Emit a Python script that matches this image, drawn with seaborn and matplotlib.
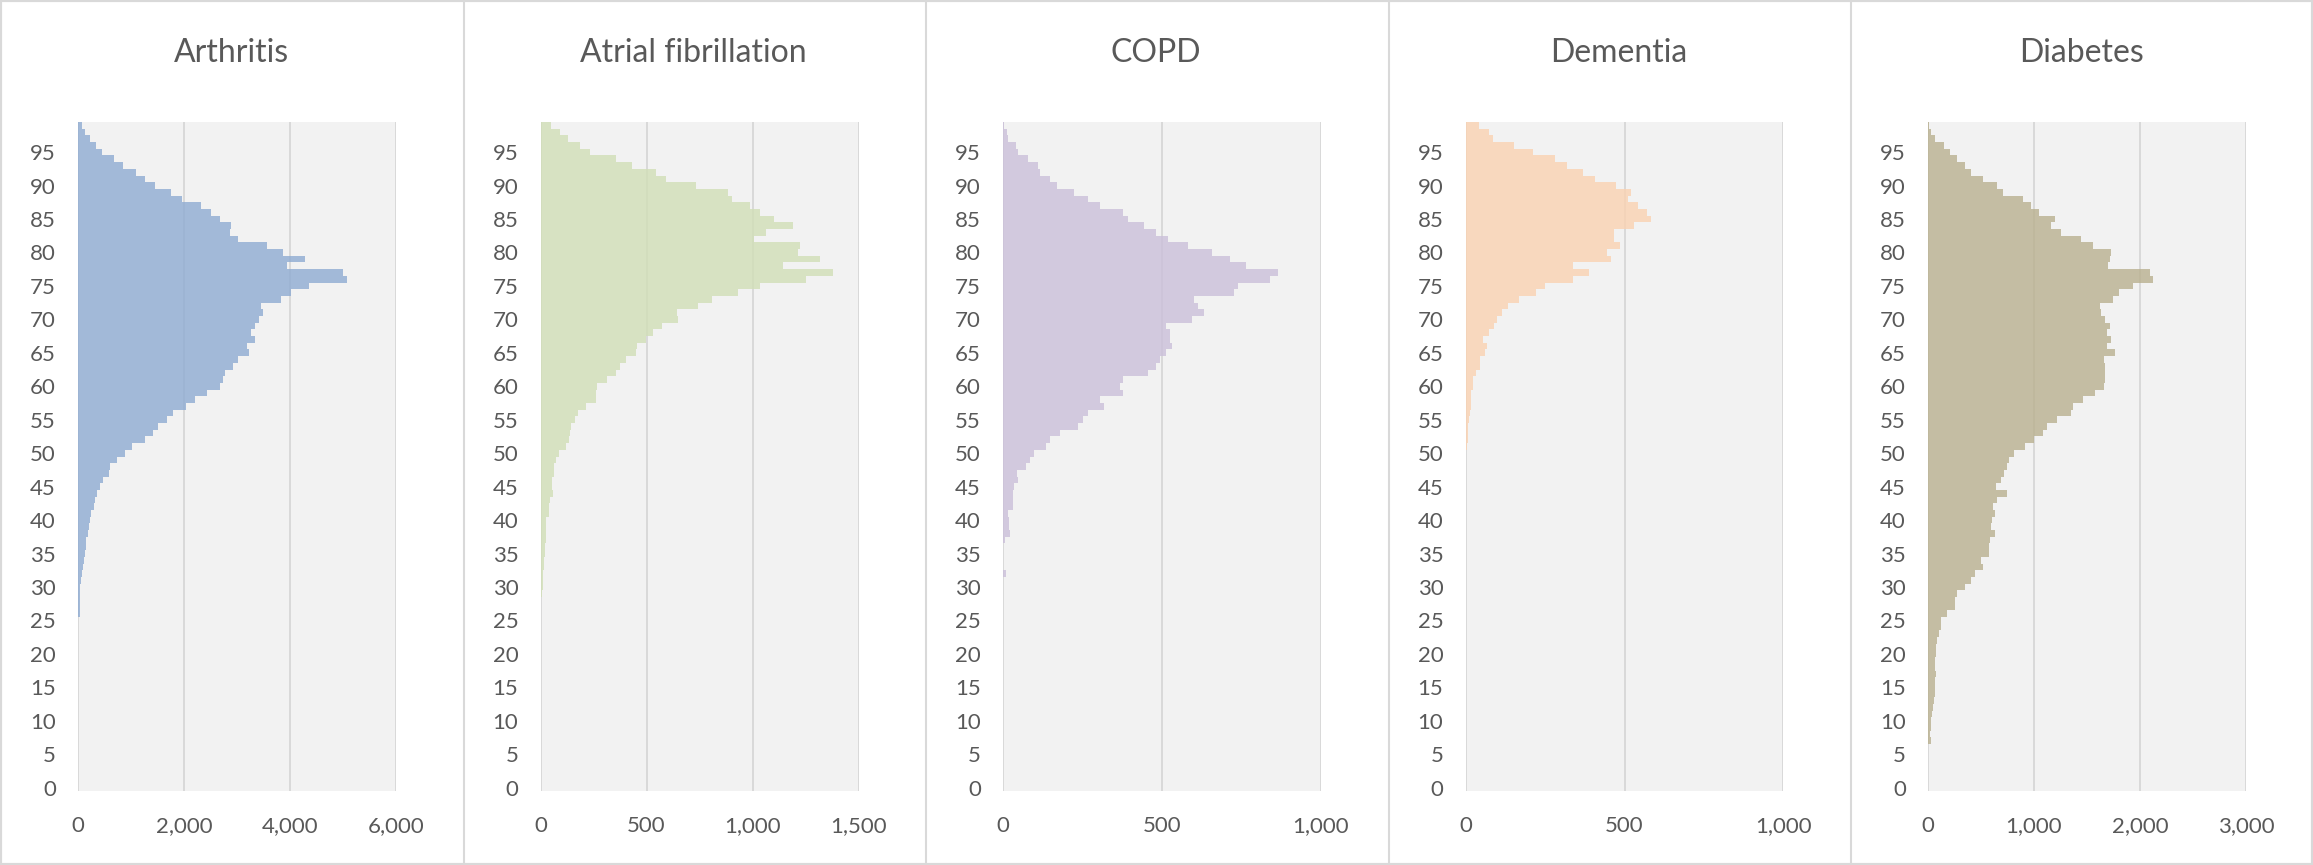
"""
Age distribution of patients by condition
"""
import numpy as np
import pandas as pd
import matplotlib.pyplot as plt
import seaborn as sns
from matplotlib.lines import Line2D
from matplotlib.patches import Rectangle

ages = list(range(100))

# patient counts per single year of age (0..99)
arthritis = [0] * 26 + [
    38, 38, 38, 38,
    44, 63, 82, 95, 114, 126, 145, 158, 190, 208,
    233, 252, 297, 315, 360, 420, 473, 587, 612, 738,
    883, 1010, 1262, 1410, 1515, 1670, 1800, 2030, 2210, 2430,
    2670, 2730, 2775, 2920, 3010, 3220, 3185, 3345, 3260, 3345,
    3420, 3490, 3460, 3830, 4020, 4355, 5080, 5005, 3945, 4290,
    3870, 3565, 3010, 2860, 2890, 2670, 2510, 2320, 1955, 1750,
    1450, 1260, 1100, 840, 675, 460, 347, 233, 126, 76,
]
atrial_fib = [0] * 29 + [
    5,
    12, 11, 11, 16, 16, 19, 19, 24, 24, 28,
    28, 39, 39, 47, 60, 55, 55, 63, 63, 71,
    87, 118, 134, 139, 145, 165, 176, 213, 261, 261,
    268, 312, 354, 375, 402, 449, 457, 499, 532, 575,
    649, 643, 743, 811, 932, 1036, 1252, 1378, 1142, 1320,
    1216, 1225, 1008, 1063, 1189, 1102, 1036, 989, 901, 885,
    732, 591, 543, 433, 354, 233, 186, 129, 91, 50,
]
copd = [0] * 32 + [
    10, 0, 0, 0, 0, 7, 23, 18,
    18, 15, 30, 30, 30, 34, 48, 44, 72, 85,
    99, 135, 149, 180, 237, 250, 268, 319, 306, 376,
    369, 376, 457, 481, 495, 512, 530, 526, 526, 512,
    594, 633, 614, 602, 727, 740, 840, 866, 764, 715,
    656, 583, 520, 481, 442, 392, 376, 306, 268, 224,
    170, 149, 117, 111, 80, 48, 41, 15, 12, 3,
]
dementia = [0] * 49 + [
    2,
    3, 5, 7, 7, 9, 10, 15, 16, 18, 18,
    23, 23, 34, 47, 47, 60, 67, 54, 73, 91,
    100, 115, 135, 167, 222, 250, 337, 388, 337, 456,
    445, 487, 468, 468, 531, 582, 571, 544, 512, 519,
    474, 406, 369, 319, 282, 212, 154, 86, 75, 41,
]
diabetes = [0] * 7 + [
    25, 16, 25,
    31, 38, 47, 57, 63, 63, 69, 79, 69, 69,
    79, 79, 88, 101, 120, 126, 182, 252, 252, 277,
    346, 403, 440, 519, 497, 572, 572, 582, 635, 598,
    607, 629, 613, 651, 748, 638, 692, 717, 748, 764,
    811, 918, 1000, 1085, 1126, 1220, 1346, 1368, 1462, 1573,
    1661, 1667, 1673, 1667, 1661, 1761, 1692, 1730, 1692, 1714,
    1667, 1635, 1620, 1745, 1799, 1934, 2123, 2091, 1700, 1720,
    1730, 1557, 1447, 1258, 1164, 1201, 1044, 969, 896, 708,
    654, 519, 409, 346, 277, 204, 151, 69, 31, 9,
]

titles = ["Arthritis", "Atrial fibrillation", "COPD", "Dementia", "Diabetes"]
series = [arthritis, atrial_fib, copd, dementia, diabetes]
colors = ["#8EABD2", "#D1DFB6", "#CBBFD9", "#FAD2B1", "#B9B08F"]
x_max = [6000, 1500, 1000, 1000, 3000]
x_step = [2000, 500, 500, 500, 1000]

sns.set_theme(style="white")
plt.rcParams["font.family"] = ["Lato", "DejaVu Sans"]

W, H = 2313, 865
fig = plt.figure(figsize=(W / 100, H / 100), dpi=100)
text_color = "#595959"
line_color = "#D9D9D9"
panel_w = 462.5

for i, (title, vals, color, xm, xs) in enumerate(zip(titles, series, colors, x_max, x_step)):
    ax = fig.add_axes([(78 + i * panel_w) / W, (H - 791) / H, 318 / W, (791 - 122) / H])
    ax.set_facecolor("#F2F2F2")
    df = pd.DataFrame({"age": ages, "count": vals})
    sns.histplot(data=df, y="age", weights="count", binwidth=1, binrange=(0, 100),
                 element="step", fill=True, color=color, alpha=0.8, linewidth=0, ax=ax)
    ax.set_xlim(0, xm)
    ax.set_ylim(0, 100)
    ax.set_xticks(np.arange(0, xm + 1, xs))
    ax.set_xticklabels([f"{v:,}" for v in range(0, xm + 1, xs)])
    ax.set_yticks(np.arange(0, 100, 5) + 0.5)
    ax.set_yticklabels([str(a) for a in range(0, 100, 5)])
    ax.set_xlabel("")
    ax.set_ylabel("")
    ax.grid(axis="x", color=line_color, linewidth=1.4)
    ax.grid(axis="y", visible=False)
    ax.set_axisbelow(True)
    for s in ax.spines.values():
        s.set_visible(False)
    ax.tick_params(axis="y", length=0, pad=16, labelsize=16, labelcolor=text_color)
    ax.tick_params(axis="x", length=0, pad=18, labelsize=16, labelcolor=text_color)

    fig.text((i * panel_w + panel_w / 2) / W, 1 - 53 / H, title, ha="center", va="center",
             fontsize=23, color=text_color)
    if i > 0:
        xs_line = (i * panel_w + 1) / W
        fig.add_artist(Line2D([xs_line, xs_line], [0, 1], transform=fig.transFigure,
                              color=line_color, linewidth=1.5))

fig.add_artist(Rectangle((0, 0), 1, 1, transform=fig.transFigure, fill=False,
                         edgecolor=line_color, linewidth=3))

plt.savefig("out.png", dpi=100)
